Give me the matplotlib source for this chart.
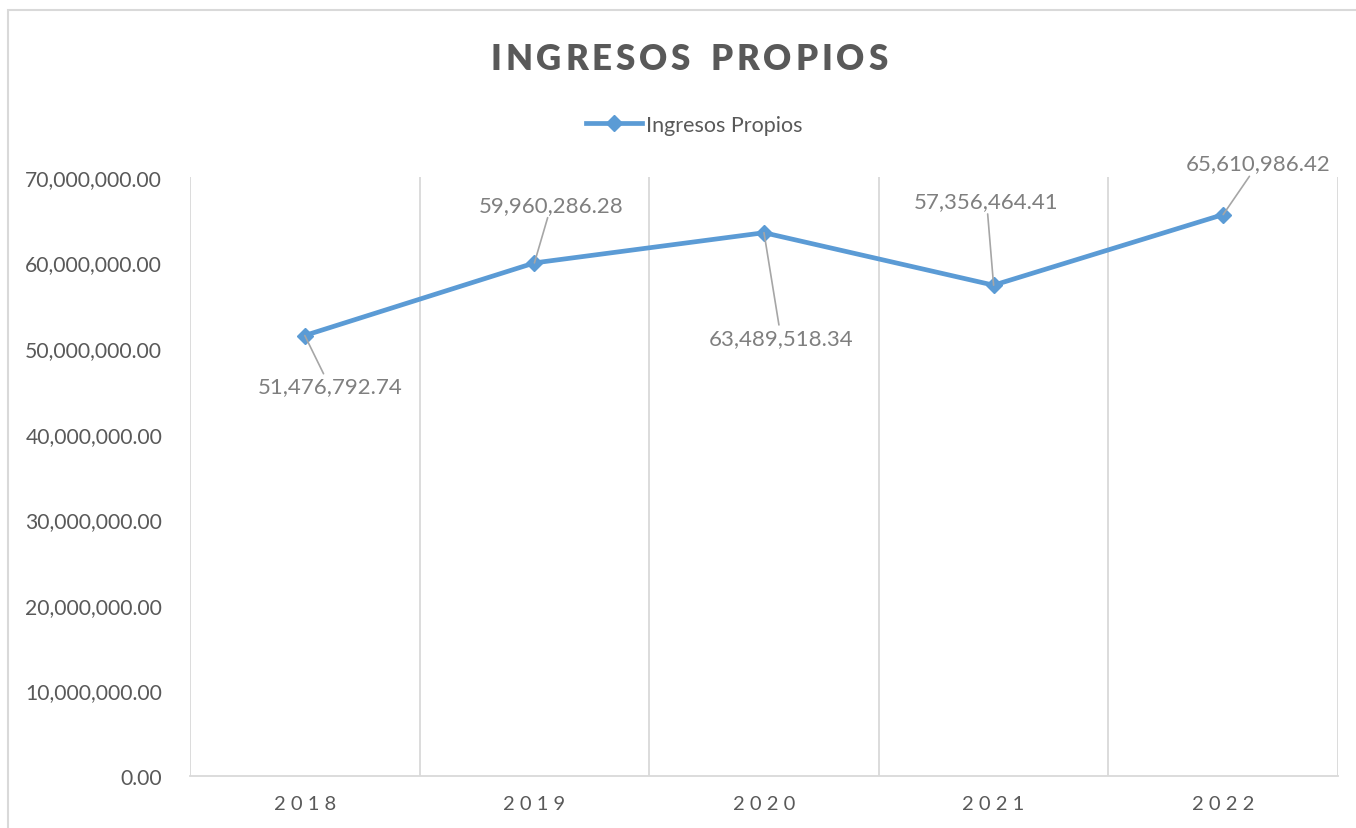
import matplotlib
matplotlib.use("Agg")
import matplotlib.pyplot as plt
from matplotlib.lines import Line2D
from matplotlib.patches import Rectangle
from matplotlib.ticker import FuncFormatter, MultipleLocator

# Chart data
years = ["2018", "2019", "2020", "2021", "2022"]
ingresos = [51476792.74, 59960286.28, 63489518.34, 57356464.41, 65610986.42]
# label offsets from each point, in pixels (dx, dy)
label_dx = [25, 17, 17, -7, 35]
label_dy = [-51, 58, -105, 84, 51]

title = "INGRESOS PROPIOS"
series_name = "Ingresos Propios"

LINE_BLUE = "#5b9bd5"
TEXT_DARK = "#595959"
TEXT_LABEL = "#7f7f7f"
GRID = "#d9d9d9"

plt.rcParams["font.family"] = ["Lato", "DejaVu Sans"]

W, H = 1356, 829
fig = plt.figure(figsize=(W / 100, H / 100), dpi=100)

# outer chart frame (Excel style)
fig.add_artist(Rectangle((8 / W, -0.1), (1400 - 8) / W, (H - 11) / H + 0.1,
                         transform=fig.transFigure, fill=False,
                         edgecolor=GRID, linewidth=1.5))

ax = fig.add_axes([190 / W, 1 - 777 / H, (1338 - 190) / W, (777 - 178) / H])
x = list(range(len(years)))

ax.plot(x, ingresos, color=LINE_BLUE, linewidth=3.4, marker="D",
        markersize=8.5, markerfacecolor=LINE_BLUE, markeredgecolor=LINE_BLUE,
        solid_joinstyle="round", zorder=3)

ax.set_xlim(-0.5, len(years) - 0.5)
ax.set_ylim(0, 70000000)
ax.yaxis.set_major_locator(MultipleLocator(10000000))
ax.yaxis.set_major_formatter(FuncFormatter(lambda v, p: f"{v:,.2f}"))

# vertical gridlines on category boundaries
for b in range(len(years) + 1):
    ax.axvline(b - 0.5, color=GRID, linewidth=1.3, zorder=1)

ax.set_xticks(x)
ax.set_xticklabels([" ".join(y) for y in years])
for s in ["top", "right", "left"]:
    ax.spines[s].set_visible(False)
ax.spines["bottom"].set_color(GRID)
ax.spines["bottom"].set_linewidth(1.3)
ax.tick_params(axis="y", length=0, labelsize=15.2, labelcolor=TEXT_DARK, pad=20)
ax.tick_params(axis="x", length=0, labelsize=14.5, labelcolor=TEXT_DARK, pad=14)

# data labels with leader lines
for xi, v, dx, dy in zip(x, ingresos, label_dx, label_dy):
    ax.annotate(f"{v:,.2f}", xy=(xi, v), xytext=(dx, dy), textcoords="offset pixels",
                ha="center", va="center", fontsize=16, color=TEXT_LABEL,
                arrowprops=dict(arrowstyle="-", color="#a6a6a6", linewidth=1.2,
                                shrinkA=0, shrinkB=0),
                zorder=4)

# legend
handle = Line2D([], [], color=LINE_BLUE, linewidth=3.4, marker="D", markersize=8)
fig.legend([handle], [series_name], loc="center", bbox_to_anchor=(694 / W, 1 - 126 / H),
           frameon=False, fontsize=15.5, labelcolor=TEXT_DARK, handlelength=2.6,
           handletextpad=0.2)

# letter-spaced title, drawn character by character
fig.canvas.draw()
renderer = fig.canvas.get_renderer()
spacing = 3.8
title_kw = dict(fontsize=25, fontweight="heavy", color=TEXT_DARK)
widths = []
for ch in title:
    t = fig.text(0, 0, ch if ch != " " else "I", **title_kw)
    widths.append(t.get_window_extent(renderer).width)
    t.remove()
widths = [w if ch != " " else w * 1.2 for ch, w in zip(title, widths)]
total = sum(widths) + spacing * (len(title) - 1)
cx = 689
px = cx - total / 2
for ch, w in zip(title, widths):
    if ch != " ":
        fig.text(px / W, 1 - 59 / H, ch, ha="left", va="center", **title_kw)
    px += w + spacing

fig.savefig("out.png", dpi=100)
